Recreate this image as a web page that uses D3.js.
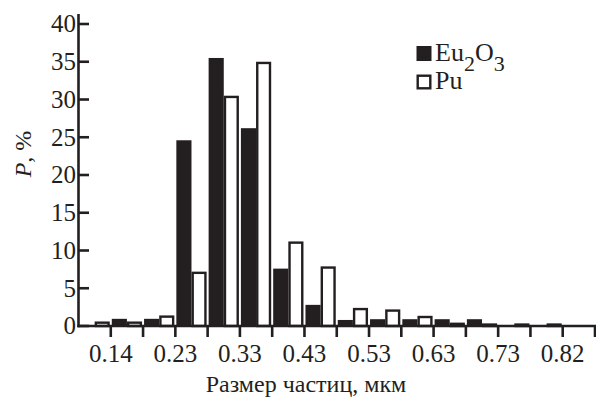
<!DOCTYPE html>
<html>
<head>
<meta charset="utf-8">
<script src="https://cdn.jsdelivr.net/npm/d3@7"></script>
<style>
  html, body { margin: 0; padding: 0; background: #fff; }
  svg text { font-family: "Liberation Serif", "Times New Roman", serif; fill: #231f20; }
</style>
</head>
<body>
<svg id="chart" width="596" height="398"></svg>
<script>
// size bins, Eu2O3 and Pu shares in %
const bins = d3.range(16);
const eu2o3 = [0, 0.95, 0.95, 24.6, 35.5, 26.2, 7.6, 2.8, 0.8, 0.9, 0.9, 0.9, 0.9, 0, 0, 0];
const pu = [0.6, 0.6, 1.4, 7.2, 30.5, 35.0, 11.2, 7.9, 2.4, 2.2, 1.35, 0.45, 0.35, 0.35, 0.35, 0];
const sizeLabels = ["0.14", "0.23", "0.33", "0.43", "0.53", "0.63", "0.73", "0.82"];
const yTicks = [0, 5, 10, 15, 20, 25, 30, 35, 40];
const series = ["Eu2O3", "Pu"];

const ink = "#231f20";
const svg = d3.select("#chart");

const x = d3.scaleBand().domain(bins).range([78.5, 595]).padding(0);
const xs = d3.scaleBand().domain(series).range([1, x.bandwidth() - 1]);
const y = d3.scaleLinear().domain([0, 40]).range([326, 24]);

const rows = bins.map(i => ({ bin: i, Eu2O3: eu2o3[i], Pu: pu[i] }));

// bars
const g = svg.append("g");
const sw = 2.4;
g.selectAll("rect.eu")
  .data(rows.filter(d => d.Eu2O3 > 0))
  .enter().append("rect")
  .attr("class", "eu")
  .attr("x", d => x(d.bin) + xs("Eu2O3"))
  .attr("width", xs.bandwidth())
  .attr("y", d => y(d.Eu2O3))
  .attr("height", d => y(0) - y(d.Eu2O3))
  .attr("fill", ink);

g.selectAll("rect.pu")
  .data(rows.filter(d => d.Pu > 0))
  .enter().append("rect")
  .attr("class", "pu")
  .attr("x", d => x(d.bin) + xs("Pu") + sw / 2)
  .attr("width", xs.bandwidth() - sw)
  .attr("y", d => y(d.Pu) + sw / 2)
  .attr("height", d => Math.max(0, y(0) - y(d.Pu) - sw / 2))
  .attr("fill", "#fff")
  .attr("stroke", ink)
  .attr("stroke-width", sw);

// axes
const axes = svg.append("g").attr("stroke", ink).attr("stroke-width", 2.6).attr("fill", "none");
axes.append("line")
  .attr("x1", 78.5).attr("x2", 78.5)
  .attr("y1", 14).attr("y2", y(0) + 1.3);
axes.append("line")
  .attr("x1", 77.2).attr("x2", 596)
  .attr("y1", y(0)).attr("y2", y(0));

axes.selectAll("line.ytick")
  .data(yTicks)
  .enter().append("line")
  .attr("class", "ytick")
  .attr("x1", 78.5).attr("x2", 89)
  .attr("y1", d => y(d)).attr("y2", d => y(d));

// bin boundaries get a tick each
const bounds = bins.slice(1).map(i => x(i)).concat([x.range()[1]]);
axes.selectAll("line.xtick")
  .data(bounds)
  .enter().append("line")
  .attr("class", "xtick")
  .attr("x1", d => d).attr("x2", d => d)
  .attr("y1", y(0)).attr("y2", y(0) + 11);

// tick labels
svg.append("g").selectAll("text")
  .data(yTicks)
  .enter().append("text")
  .attr("x", 76)
  .attr("y", d => y(d))
  .attr("dy", "0.33em")
  .attr("text-anchor", "end")
  .attr("font-size", 25)
  .text(d => d);

svg.append("g").selectAll("text")
  .data(sizeLabels)
  .enter().append("text")
  .attr("x", (d, i) => bounds[i * 2])
  .attr("y", 362)
  .attr("text-anchor", "middle")
  .attr("font-size", 25)
  .text(d => d);

// axis titles
svg.append("text")
  .attr("x", 306).attr("y", 392)
  .attr("text-anchor", "middle")
  .attr("font-size", 24)
  .text("Размер частиц, мкм");

const yt = svg.append("text")
  .attr("transform", "translate(31,154) rotate(-90)")
  .attr("text-anchor", "middle")
  .attr("font-size", 24);
yt.append("tspan").attr("font-style", "italic").text("P");
yt.append("tspan").text(", %");

// legend
const lg = svg.append("g");
lg.append("rect")
  .attr("x", 416.5).attr("y", 46).attr("width", 15).attr("height", 15)
  .attr("fill", ink);
lg.append("rect")
  .attr("x", 417.7).attr("y", 75.7).attr("width", 12.6).attr("height", 12.6)
  .attr("fill", "#fff").attr("stroke", ink).attr("stroke-width", 2.4);

const t1 = lg.append("text").attr("x", 435).attr("y", 61).attr("font-size", 26);
t1.append("tspan").text("Eu");
t1.append("tspan").attr("font-size", 22).attr("dy", 10).text("2");
t1.append("tspan").attr("dy", -10).text("O");
t1.append("tspan").attr("font-size", 22).attr("dy", 10).text("3");

lg.append("text").attr("x", 435).attr("y", 89).attr("font-size", 26).text("Pu");
</script>
</body>
</html>
